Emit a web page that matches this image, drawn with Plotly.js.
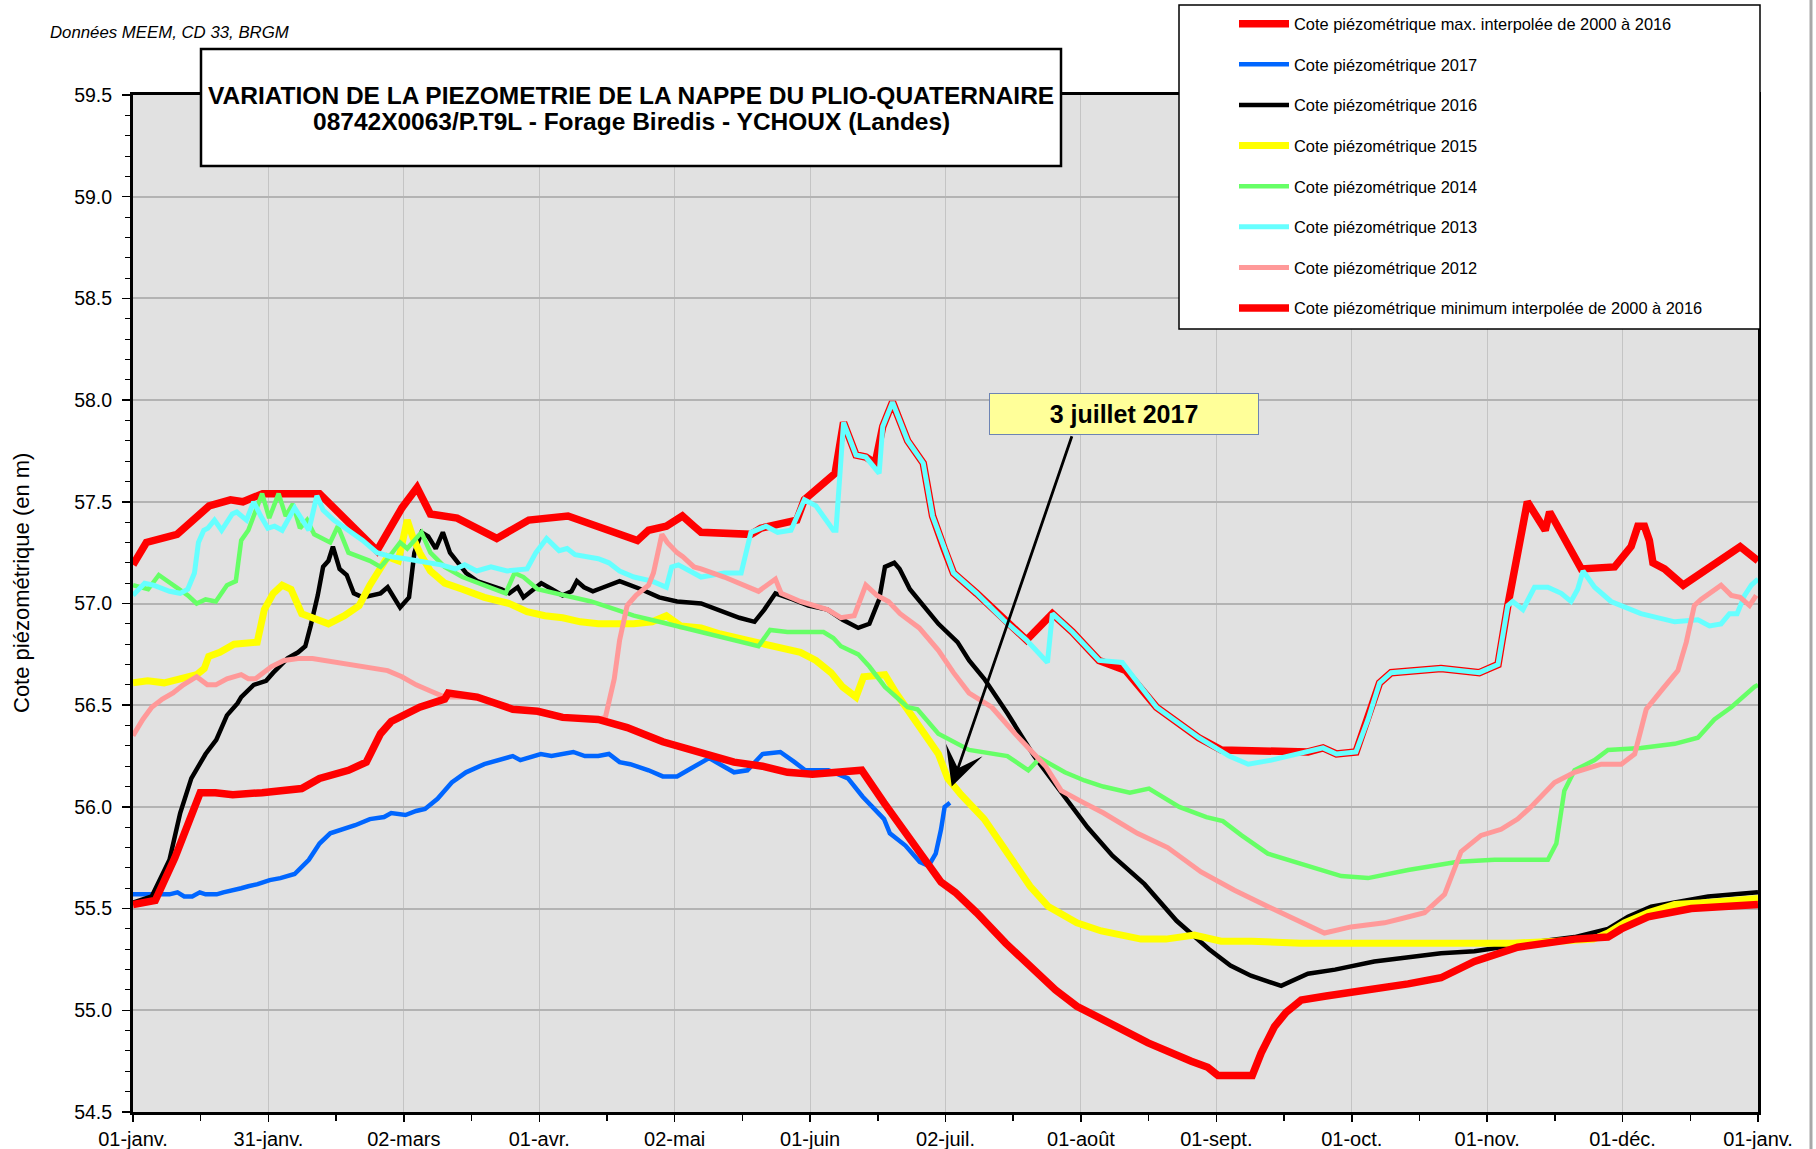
<!DOCTYPE html>
<html><head><meta charset="utf-8">
<script src="https://cdn.plot.ly/plotly-3.0.1.min.js"></script>
<style>html,body{margin:0;padding:0;background:#fff}</style>
</head><body>
<div id="chart" style="width:1816px;height:1149px"></div>
<script>
// ---- axis ticks (day of year) ----
const xTickDays = [0, 30.42, 60.83, 91.25, 121.67, 152.08, 182.5, 212.92, 243.33, 273.75, 304.17, 334.58, 365];
const xTickLabels = ['01-janv.','31-janv.','02-mars','01-avr.','02-mai','01-juin','02-juil.','01-août','01-sept.','01-oct.','01-nov.','01-déc.','01-janv.'];
const xMinorDays = [15.21, 45.63, 76.04, 106.46, 136.88, 167.29, 197.71, 228.13, 258.54, 288.96, 319.38, 349.79];

// ---- series ----
const maxDays = [0,3,9.9,12.3,17.1,21.9,24.7,29.1,41.9,54.8,60.4,63.8,66.8,72.8,81.7,88.9,97.7,113.3,115.8,119.8,123.4,126,127.6,138.8,141,149.1,150.8,157.7,159.6,162.4,164.6,166.7,168.4,170.6,174,177.5,179.6,182.2,184.3,189.5,195.5,200.7,206.5,211,217,223,229.9,239.4,244.5,258,263.9,267.3,270.3,274.7,277.4,280,282.6,288.6,293.8,302.4,306.6,308.8,313.2,317.2,318.2,325.3,332.8,336.5,338,339.5,340.6,341.4,344,348.2,361,365];
const maxVals = [57.19,57.30,57.34,57.39,57.48,57.51,57.50,57.54,57.54,57.26,57.47,57.57,57.44,57.42,57.32,57.41,57.43,57.31,57.36,57.38,57.43,57.38,57.35,57.34,57.37,57.41,57.51,57.64,57.89,57.73,57.72,57.69,57.87,57.99,57.80,57.69,57.43,57.27,57.15,57.05,56.92,56.82,56.95,56.86,56.72,56.67,56.49,56.34,56.28,56.27,56.27,56.29,56.26,56.27,56.43,56.61,56.66,56.67,56.68,56.66,56.70,56.99,57.50,57.36,57.45,57.17,57.18,57.28,57.38,57.38,57.31,57.20,57.17,57.09,57.28,57.21];

const y2017Days = [0,8.2,10,11.5,13.3,15,16.3,18.8,20.3,22.9,24.3,25.9,28,30.7,33.1,36.3,39.5,41.9,44.3,49.9,53.2,56.4,58,61.2,63.6,65.6,68.4,71.6,74.8,78.9,82,85.3,87,91.6,94,98.9,101.5,104.5,106.9,109.3,111.7,115.8,119,122.2,125.4,129.4,135,138,141.4,145.4,148.6,151,156.2,160.6,163.9,168.7,170,173.5,176.7,178.7,180.3,181.5,182.3,183.5];
const y2017Vals = [55.57,55.57,55.58,55.56,55.56,55.58,55.57,55.57,55.58,55.59,55.60,55.61,55.62,55.64,55.65,55.67,55.74,55.82,55.87,55.91,55.94,55.95,55.97,55.96,55.98,55.99,56.04,56.12,56.17,56.21,56.23,56.25,56.23,56.26,56.25,56.27,56.25,56.25,56.26,56.22,56.21,56.18,56.15,56.15,56.19,56.24,56.17,56.18,56.26,56.27,56.22,56.18,56.18,56.14,56.05,55.94,55.87,55.81,55.73,55.71,55.77,55.89,56.00,56.02];

const y2016Days = [0,4.2,8.2,10.6,13.1,16.3,18.7,21.1,23.5,24.3,27.1,29.9,31.5,34.7,37.1,38.7,39.9,41.5,42.7,43.9,44.9,46.4,48,49.6,51.6,53.2,55.6,57.2,60,62,63.2,64.8,66.3,68,69.6,71.2,73.2,74.8,77.3,80.4,82.8,84.5,86.4,87.7,89.3,91.7,94.1,96.5,98.5,99.7,101.3,103.3,105.7,109.3,114.1,118.2,122.2,127.6,136.2,139.6,141.8,144.3,148.2,151.7,156,159.4,162.9,165.4,167.6,168.9,171,172.2,174.5,177.5,180.9,185.2,187.8,191.2,196.4,202.4,209.3,214.4,220,227.2,234.4,241.7,246.5,251.1,257.9,263.9,270,278.8,293.8,301.3,316.3,323.8,331.3,335.8,341,346.3,353.8,365];
const y2016Vals = [55.53,55.56,55.74,55.97,56.14,56.26,56.33,56.45,56.51,56.54,56.60,56.62,56.66,56.73,56.76,56.79,56.89,57.04,57.18,57.21,57.28,57.17,57.14,57.05,57.03,57.04,57.05,57.08,56.98,57.03,57.25,57.35,57.33,57.27,57.35,57.25,57.19,57.15,57.11,57.09,57.07,57.05,57.08,57.03,57.06,57.10,57.07,57.04,57.06,57.11,57.08,57.06,57.08,57.11,57.07,57.03,57.01,57.00,56.93,56.91,56.97,57.05,57.02,56.99,56.97,56.92,56.88,56.90,57.02,57.18,57.20,57.17,57.07,56.99,56.90,56.81,56.72,56.63,56.46,56.25,56.05,55.90,55.76,55.62,55.44,55.30,55.22,55.17,55.12,55.18,55.20,55.24,55.28,55.29,55.34,55.36,55.40,55.46,55.51,55.53,55.56,55.58];

const y2015Days = [0,3.3,7,10.6,14.3,16,17,19.5,22.7,27.9,28.7,29.5,31.5,33.5,35.5,37.9,40.3,43.9,47.5,50.8,53.2,55.6,57.2,59.6,61.6,62.8,64.4,66.8,70,74,78.9,84.5,88.5,92.5,96.5,100.5,104.5,112.5,116.6,119.8,123,127.6,131.9,137.9,144.8,149.9,153.4,156.8,159.4,162.4,164.1,168.9,171.4,175.7,180.9,183,186,191.2,196.8,201.5,205.6,212,217.5,226.4,232,238.4,244.4,251.3,262.4,275,290,310,320,328,331.3,335,340.3,346.3,353.8,365];
const y2015Vals = [56.61,56.62,56.61,56.63,56.65,56.68,56.74,56.76,56.80,56.81,56.89,56.97,57.05,57.09,57.07,56.95,56.93,56.90,56.94,56.99,57.09,57.17,57.23,57.21,57.41,57.33,57.25,57.16,57.10,57.07,57.03,57.00,56.96,56.94,56.93,56.91,56.90,56.90,56.91,56.94,56.89,56.88,56.85,56.82,56.79,56.76,56.72,56.66,56.59,56.54,56.64,56.65,56.56,56.43,56.26,56.14,56.06,55.94,55.76,55.61,55.51,55.43,55.39,55.35,55.35,55.37,55.34,55.34,55.33,55.33,55.33,55.33,55.34,55.35,55.38,55.43,55.48,55.52,55.53,55.55];

const y2014Days = [0,3.4,5.8,9,12.3,14.3,16.3,18.6,21.1,23.1,24.3,25.9,27.9,29,30.6,32.7,34.3,35.9,37.5,39.1,40.7,44.3,46,48.4,53.2,55.6,57.2,60,61.6,64.8,66.8,70,74,78.9,83.7,85.7,87.7,90.9,96.5,102.9,108.5,112.5,118.2,127.6,136.2,140.5,143.1,147,155.1,157.3,159,162.9,165.4,168.9,174,176.2,180.9,187.8,196.4,201.1,203.7,209.3,213.7,217.9,223.9,228.2,235,241.1,244.8,249,254.9,262.4,265.4,271.4,277.4,286.4,297.6,305.8,317.8,319.7,321.5,323.8,328.3,331.3,338.7,346.3,351.5,355.2,359,361,364.2,365];
const y2014Vals = [57.09,57.07,57.14,57.09,57.04,57.00,57.02,57.01,57.09,57.11,57.31,57.36,57.48,57.54,57.42,57.54,57.43,57.49,57.37,57.41,57.34,57.30,57.38,57.25,57.21,57.18,57.22,57.30,57.27,57.35,57.25,57.18,57.13,57.09,57.05,57.15,57.13,57.07,57.04,57.01,56.97,56.94,56.91,56.86,56.81,56.79,56.87,56.86,56.86,56.83,56.79,56.75,56.69,56.59,56.49,56.48,56.36,56.28,56.25,56.18,56.24,56.17,56.13,56.10,56.07,56.09,56.00,55.95,55.93,55.86,55.77,55.72,55.70,55.66,55.65,55.69,55.73,55.74,55.74,55.82,56.08,56.18,56.23,56.28,56.29,56.31,56.34,56.43,56.49,56.53,56.59,56.60];

const y2013Days = [0,2.6,4.6,8.2,10.6,12.3,13.8,14.7,15.9,16.8,18.3,19.9,22.3,23.3,25.5,27.1,28.7,30.3,31.8,33.5,36.3,37.9,39.5,41.3,42.7,45.1,48.4,51.6,54.8,58,61.2,69.2,72.4,74.5,77.2,80.4,84,88.5,90.5,92.9,95.7,97.5,99.3,104.5,106.9,109.3,112.5,116.6,119.8,121,122.5,127.6,132.8,136.6,138.8,142.2,144.8,147.8,150.8,153.4,157.3,157.9,159.6,162.4,164.6,167.6,168.4,170.6,174,177.5,179.6,182.2,184.3,189.5,195.5,200.7,205.4,206.5,211,217,222.2,229.9,239.4,246.2,250.5,255.7,261.7,263.9,267.3,270.3,274.7,277.4,280,282.6,288.6,293.8,302.4,306.6,308.8,309.9,312.2,314.8,317.8,320.8,323,324.5,325.7,328.3,332,338.7,346.3,351.5,354.1,356.7,358.6,360.3,362,363.5,365];
const y2013Vals = [57.04,57.10,57.09,57.06,57.05,57.07,57.15,57.30,57.36,57.37,57.41,57.36,57.44,57.45,57.41,57.50,57.43,57.37,57.38,57.36,57.47,57.42,57.36,57.53,57.46,57.41,57.36,57.31,57.25,57.23,57.22,57.19,57.17,57.19,57.16,57.18,57.16,57.17,57.25,57.32,57.26,57.27,57.24,57.22,57.20,57.16,57.13,57.11,57.08,57.18,57.19,57.13,57.15,57.15,57.35,57.38,57.35,57.36,57.51,57.48,57.36,57.36,57.89,57.73,57.72,57.64,57.87,57.99,57.80,57.69,57.43,57.27,57.15,57.05,56.92,56.82,56.71,56.95,56.86,56.72,56.71,56.49,56.34,56.25,56.21,56.23,56.26,56.27,56.29,56.26,56.27,56.43,56.61,56.66,56.67,56.68,56.66,56.70,56.99,57.01,56.97,57.08,57.08,57.05,57.01,57.07,57.16,57.08,57.01,56.95,56.91,56.92,56.89,56.90,56.95,56.95,57.04,57.09,57.12];

const y2012Days = [0,2.2,4.2,6.6,9,11.3,14.3,16.7,18.6,21.1,24.3,25.9,27.5,31.1,33.9,37.1,40.3,46,51.6,57.2,60.4,63.6,66.8,70,77.3,85.3,90.9,96.5,104.5,106.1,108.1,109.3,111,113,115.8,116.9,118.8,120,122.2,123.5,126,127.6,132.8,136.2,140.5,144.3,145.6,149.9,156,159,162,164.6,167.1,169.7,172.3,176.6,180.9,184.3,187.8,192.9,198.1,205,208.5,213.6,218,225.6,232.4,239.9,247.4,254.9,262.4,267.6,273.6,281.1,284.8,290.1,294.6,298.3,302.8,307.3,311,314,319.3,323.8,329.8,334.3,337.3,339.9,343.6,347,348.9,350.7,352.2,356.7,359,361,363.1,364.6];
const y2012Vals = [56.35,56.43,56.49,56.53,56.56,56.60,56.64,56.60,56.60,56.63,56.65,56.63,56.63,56.69,56.72,56.73,56.73,56.71,56.69,56.67,56.64,56.60,56.57,56.54,56.54,56.48,56.47,56.44,56.43,56.44,56.63,56.82,56.99,57.04,57.09,57.15,57.34,57.30,57.25,57.23,57.18,57.17,57.13,57.10,57.06,57.12,57.05,57.01,56.97,56.93,56.94,57.09,57.04,57.01,56.95,56.88,56.77,56.66,56.56,56.49,56.36,56.20,56.08,56.02,55.97,55.87,55.80,55.68,55.59,55.51,55.43,55.38,55.41,55.43,55.45,55.48,55.57,55.78,55.86,55.89,55.94,56.00,56.12,56.17,56.21,56.21,56.26,56.48,56.58,56.67,56.81,56.99,57.02,57.09,57.04,57.03,56.99,57.04];

const minDays = [0,5,9.4,15.1,18.5,22.4,29,35.4,37.9,41.9,48.4,52.4,55.6,58,60.8,64.4,70,70.8,77.3,85.3,90.9,96.5,104.5,111,119,125.4,135,141.4,147,152.6,158,163.7,168.7,173.5,177.5,181.5,184.7,189.5,196,202.4,207.2,212,221.6,228,237.7,241.4,243.7,251.4,253.4,256.4,259,262.4,268,275,286.4,293.8,301.3,311,323.8,331.3,334.3,340.3,350,365];
const minVals = [55.52,55.54,55.75,56.07,56.07,56.06,56.07,56.08,56.09,56.14,56.18,56.22,56.36,56.42,56.45,56.49,56.53,56.56,56.54,56.48,56.47,56.44,56.43,56.39,56.32,56.28,56.22,56.20,56.17,56.16,56.17,56.18,56.02,55.87,55.74,55.63,55.58,55.48,55.33,55.20,55.10,55.02,54.91,54.84,54.75,54.72,54.68,54.68,54.79,54.92,54.99,55.05,55.07,55.09,55.13,55.16,55.24,55.31,55.35,55.36,55.40,55.46,55.50,55.52];

const seriesNames = [
  'Cote piézométrique max. interpolée de 2000 à 2016',
  'Cote piézométrique 2017',
  'Cote piézométrique 2016',
  'Cote piézométrique 2015',
  'Cote piézométrique 2014',
  'Cote piézométrique 2013',
  'Cote piézométrique 2012',
  'Cote piézométrique minimum interpolée de 2000 à 2016'
];
const seriesX = [maxDays, y2017Days, y2016Days, y2015Days, y2014Days, y2013Days, y2012Days, minDays];
const seriesY = [maxVals, y2017Vals, y2016Vals, y2015Vals, y2014Vals, y2013Vals, y2012Vals, minVals];
const seriesColors = ['#ff0000','#0066ff','#000000','#ffff00','#66ff66','#66ffff','#ff9999','#ff0000'];
const seriesWidths = [7.5, 4.5, 4.5, 7, 4.5, 5, 5, 7.5];

const FONT = 'Liberation Sans, Arial, Helvetica, sans-serif';
// plot area in px: left 133, right 1758, top 95, bottom 1112
const L = 133, R = 1758, T = 95, B = 1112, W = R - L, H = B - T;
const px = v => (v - L) / W;
const py = v => (B - v) / H;

const traces = seriesNames.map((n, i) => ({
  type: 'scatter', mode: 'lines', name: n,
  x: seriesX[i], y: seriesY[i],
  legendgroup: 'g' + i,
  line: {color: seriesColors[i], width: seriesWidths[i]},
  hoverinfo: 'skip'
}));

const layout = {
  width: 1816, height: 1149,
  margin: {l: L, r: 1816 - R, t: T, b: 1149 - B, pad: 0, autoexpand: false},
  paper_bgcolor: '#ffffff',
  plot_bgcolor: '#e1e1e1',
  font: {family: FONT, color: '#000000', size: 19},
  showlegend: true,
  legend: {
    x: px(1234), y: py(6.5), xanchor: 'left', yanchor: 'top',
    bgcolor: 'rgba(0,0,0,0)', borderwidth: 0,
    font: {family: FONT, size: 16.4, color: '#000'},
    tracegroupgap: 16.3, itemwidth: 50
  },
  xaxis: {
    range: [0, 365], tickmode: 'array', tickvals: xTickDays, ticktext: xTickLabels,
    ticks: 'outside', ticklen: 7, tickwidth: 1.5, tickcolor: '#000',
    showgrid: true, gridcolor: '#c4c4c4', gridwidth: 1,
    showline: true, linecolor: '#000', linewidth: 3, mirror: true, zeroline: false,
    tickfont: {family: FONT, size: 20},
    minor: {tickmode: 'array', tickvals: xMinorDays, ticks: 'outside', ticklen: 6, tickwidth: 1.5, tickcolor: '#000', showgrid: false}
  },
  yaxis: {
    range: [54.5, 59.5], tick0: 54.5, dtick: 0.5, tickformat: '.1f',
    ticks: 'outside', ticklen: 8, tickwidth: 1.5, tickcolor: '#000', ticklabelstandoff: 6,
    showgrid: true, gridcolor: '#b3b3b3', gridwidth: 2,
    showline: true, linecolor: '#000', linewidth: 3, mirror: true, zeroline: false,
    tickfont: {family: FONT, size: 19.5},
    minor: {dtick: 0.1, ticks: 'outside', ticklen: 5, tickwidth: 1, tickcolor: '#000', showgrid: false}
  },
  shapes: [
    // legend frame
    {type: 'rect', xref: 'paper', yref: 'paper', x0: px(1179), x1: px(1760), y0: py(329), y1: py(5),
     fillcolor: '#ffffff', line: {color: '#000', width: 1.5}, layer: 'above'},
    // title frame
    {type: 'rect', xref: 'paper', yref: 'paper', x0: px(201), x1: px(1061), y0: py(166), y1: py(49),
     fillcolor: '#ffffff', line: {color: '#000', width: 2.5}, layer: 'above'},
    // chart area outer border on the right
    {type: 'line', xref: 'paper', yref: 'paper', x0: px(1811), x1: px(1811), y0: py(1149), y1: py(0),
     line: {color: '#a8a8a8', width: 3}, layer: 'above'}
  ],
  annotations: [
    {xref: 'paper', yref: 'paper', x: px(21), y: py(583), xanchor: 'center', yanchor: 'middle', showarrow: false,
     textangle: -90, text: 'Cote piézométrique (en m)', font: {family: FONT, size: 22}},
    {xref: 'paper', yref: 'paper', x: px(48), y: py(32.5), xanchor: 'left', yanchor: 'middle', showarrow: false,
     text: '<i>Données MEEM, CD 33, BRGM</i>', font: {family: FONT, size: 16.8}},
    {xref: 'paper', yref: 'paper', x: px(631), y: py(95.5), xanchor: 'center', yanchor: 'middle', showarrow: false,
     text: '<b>VARIATION DE LA PIEZOMETRIE DE LA NAPPE DU PLIO-QUATERNAIRE</b>', font: {family: FONT, size: 24.5}},
    {xref: 'paper', yref: 'paper', x: px(631), y: py(121.5), xanchor: 'center', yanchor: 'middle', showarrow: false,
     text: '<b>08742X0063/P.T9L - Forage Biredis - YCHOUX (Landes)</b>', font: {family: FONT, size: 24.5}},
    {xref: 'x', yref: 'y', x: 183.9, y: 56.10, axref: 'x', ayref: 'y', ax: 211, ay: 57.83,
     showarrow: true, arrowhead: 3, arrowsize: 2.3, arrowwidth: 2.8, arrowcolor: '#000', text: ''},
    {xref: 'paper', yref: 'paper', x: px(1124), y: py(414), xanchor: 'center', yanchor: 'middle', showarrow: false,
     text: '<b>3 juillet 2017</b>', font: {family: FONT, size: 25},
     bgcolor: '#ffff99', bordercolor: '#6d84b4', borderwidth: 1, borderpad: 3, width: 262, height: 34}
  ]
};

Plotly.newPlot('chart', traces, layout, {staticPlot: true, displayModeBar: false});
</script>
</body></html>
